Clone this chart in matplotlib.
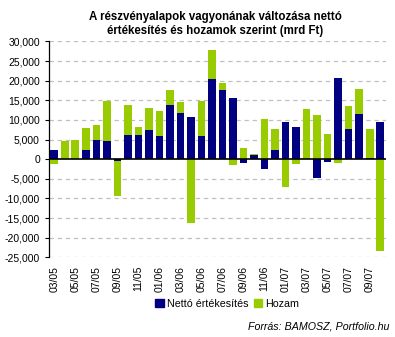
import numpy as np
import matplotlib
matplotlib.use("Agg")
import matplotlib.pyplot as plt
from matplotlib.ticker import FuncFormatter
from matplotlib.patches import Patch

plt.rcParams['font.family'] = ['Liberation Sans', 'DejaVu Sans']

# havi adatok 2005/03 - 2007/10 (mrd Ft)
honapok = ["03/05", "04/05", "05/05", "06/05", "07/05", "08/05", "09/05", "10/05",
           "11/05", "12/05", "01/06", "02/06", "03/06", "04/06", "05/06", "06/06",
           "07/06", "08/06", "09/06", "10/06", "11/06", "12/06", "01/07", "02/07",
           "03/07", "04/07", "05/07", "06/07", "07/07", "08/07", "09/07", "10/07"]
netto = [2400, 0, 0, 2400, 5000, 4750, -450, 6050, 6050, 7340, 5790, 13800,
         11750, 10700, 5800, 20550, 17700, 15600, -950, 1100, -2500, 2400,
         9400, 8100, 0, -4850, -700, 20800, 7600, 11500, 350, 9400]
hozam = [-1100, 4700, 5000, 5450, 3650, 10100, -9050, 7750, 2050, 5700, 6450,
         3900, 2850, -16250, 9050, 7250, 1800, -1450, 2950, 250, 10200, 5200,
         -7150, -1200, 12800, 11250, 6300, -950, 5950, 6450, 7250, -23500]

netto = np.array(netto)
hozam = np.array(hozam)
x = np.arange(len(honapok))

# Excel-szeru halmozas: pozitiv felfele, negativ lefele
also = np.where(hozam >= 0, np.maximum(netto, 0), np.minimum(netto, 0))

fig = plt.figure(figsize=(3.95, 3.37), dpi=100)
ax = fig.add_axes([0.124, 0.2365, 0.852, 0.6405])

ax.bar(x, netto, width=0.72, color="#000080", label="Nettó értékesítés", zorder=3)
ax.bar(x, hozam, width=0.72, bottom=also, color="#99CC00", label="Hozam", zorder=3)

ax.set_xlim(-0.5, len(honapok) - 0.5)
ax.set_ylim(-25000, 30000)
ax.set_yticks(np.arange(-25000, 30001, 5000))
ax.yaxis.set_major_formatter(FuncFormatter(lambda v, p: f"{int(v):,}"))
for y in np.arange(-25000, 30001, 5000):
    if y != 0:
        ax.axhline(y, color="#c0c0c0", lw=0.9, ls=(0, (3.5, 3)), zorder=1)
ax.axhline(0, color="black", lw=1.2, zorder=4)

ax.set_xticks(x[::2])
ax.set_xticklabels(honapok[::2], rotation=90, fontsize=7.5)
ax.tick_params(axis="x", length=0, pad=6)
ax.tick_params(axis="y", labelsize=7.5, length=3, width=0.8)

for s in ["top", "right", "bottom"]:
    ax.spines[s].set_visible(False)
ax.spines["left"].set_linewidth(0.9)

fig.text(0.545, 0.968, "A részvényalapok vagyonának változása nettó\nértékesítés és hozamok szerint (mrd Ft)",
         ha="center", va="top", fontsize=8.3, fontweight="bold", linespacing=1.3)

fig.legend(handles=[Patch(color="#000080", label="Nettó értékesítés"),
                    Patch(color="#99CC00", label="Hozam")],
           loc="center", bbox_to_anchor=(0.575, 0.098), ncol=2, frameon=False,
           fontsize=7.7, handlelength=0.8, handleheight=0.8, handletextpad=0.3,
           columnspacing=0.5)

fig.text(0.985, 0.03, "Forrás: BAMOSZ, Portfolio.hu", ha="right", va="center",
         fontsize=7.7, style="italic")

fig.savefig("out.png", dpi=100)
